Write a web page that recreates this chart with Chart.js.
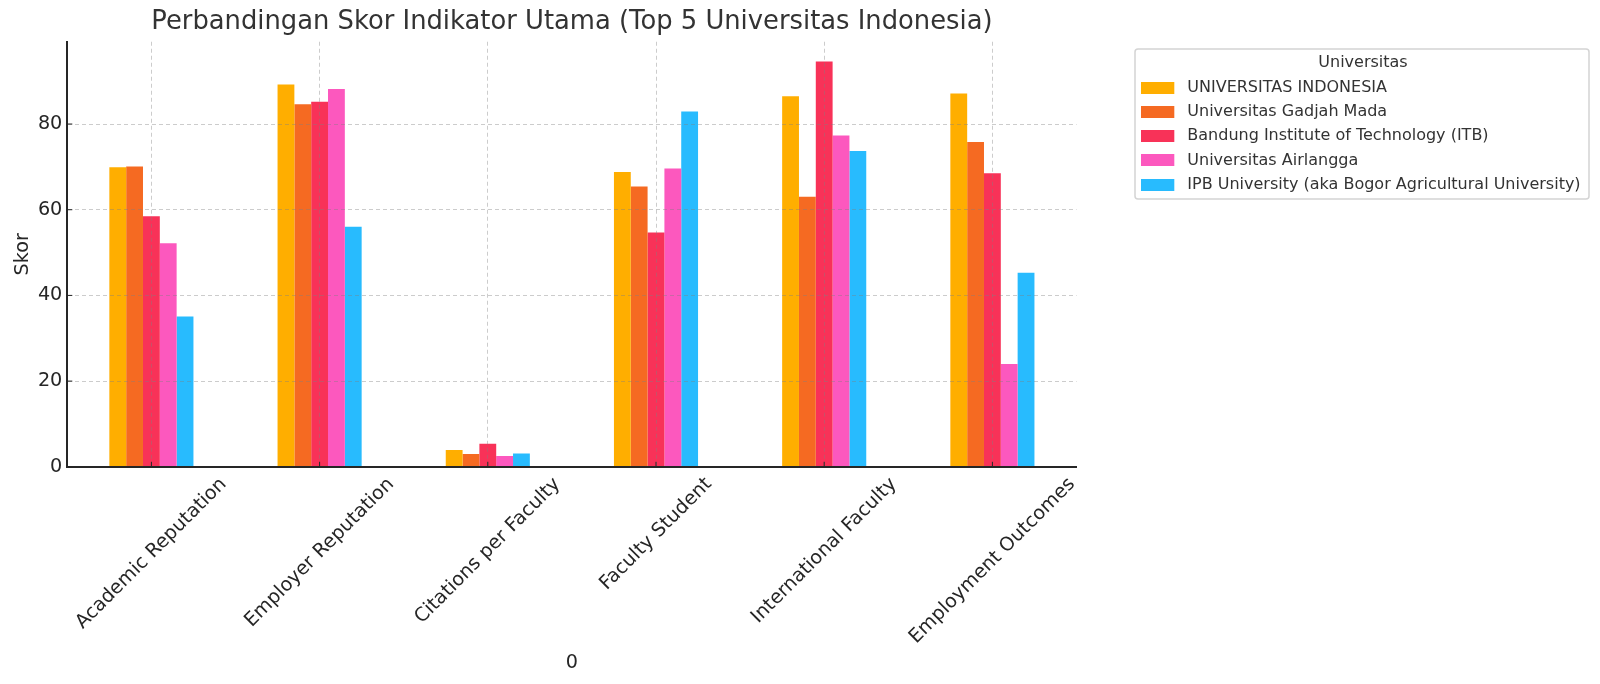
<!DOCTYPE html>
<html>
<head>
<meta charset="utf-8">
<style>html,body{margin:0;padding:0;background:#fff}canvas{display:block}</style>
<script src="https://cdn.jsdelivr.net/npm/chart.js@4"></script>
</head>
<body>
<canvas id="c" width="1600" height="684"></canvas>
<script>
const categories = ["Academic Reputation","Employer Reputation","Citations per Faculty","Faculty Student","International Faculty","Employment Outcomes"];
const universitasIndonesia = [69.9,89.2,3.9,68.8,86.5,87.1];
const gadjahMada = [70.1,84.6,3.0,65.4,63.0,75.8];
const itb = [58.5,85.2,5.4,54.7,94.6,68.5];
const airlangga = [52.2,88.2,2.5,69.6,77.3,24.0];
const ipb = [35.1,56.0,3.1,82.9,73.7,45.3];
const seriesNames = ["UNIVERSITAS INDONESIA","Universitas Gadjah Mada","Bandung Institute of Technology (ITB)","Universitas Airlangga","IPB University (aka Bogor Agricultural University)"];
const seriesColors = ["#FFAE00","#F56A22","#F83258","#FC58BE","#28BBFE"];
const seriesValues = [universitasIndonesia,gadjahMada,itb,airlangga,ipb];
const yTickStep = 20, yMax = 99.2;
const FONT = "'DejaVu Sans'";
const TICK_SIZE = 19.2, LEGEND_SIZE = 16;
const GRID = 'rgba(128,128,128,0.4)';

function swatch(color){
  const c = document.createElement('canvas');
  c.width = 38; c.height = 12;
  const g = c.getContext('2d');
  g.fillStyle = color;
  g.fillRect(0,0,33,12);
  return c;
}

const layoutPlugin = {
  id:'layoutPlugin',
  beforeLayout(chart){
    const l = chart.legend;
    if(l && !l._wrapped){
      const f = l.fit;
      l.fit = function(){ f.call(this); this.width = 523.5; };
      l._wrapped = true;
    }
  },
  afterLayout(chart){
    const l = chart.legend;
    l.left = 1133; l.right = 1593; l.top = 49; l.bottom = 684; l.width = 460; l.height = 635;
  },
  beforeDraw(chart){
    const s = chart.scales.x, ctx = chart.ctx;
    ctx.save();
    ctx.font = TICK_SIZE + "px " + FONT;
    s.getLabelItems().forEach((it,i)=>{
      const w = ctx.measureText(it.label).width;
      it.options.textAlign='center';
      it.options.textBaseline='middle';
      it.options.translation=[s.getPixelForTick(i), s.top + 7 + (w + TICK_SIZE*1.1)*Math.SQRT1_2/2];
      it.textOffset=0;
    });
    ctx.strokeStyle='#d4d4d4'; ctx.lineWidth=1.5;
    ctx.beginPath();
    ctx.roundRect(1135,49,454,150,3);
    ctx.stroke();
    ctx.restore();
  },
  afterDraw(chart){
    const ctx = chart.ctx, x = chart.scales.x, y = chart.scales.y;
    ctx.save();
    ctx.strokeStyle='#262626'; ctx.lineWidth=1;
    ctx.beginPath();
    x.ticks.forEach((t,i)=>{const p=x.getPixelForTick(i);ctx.moveTo(p,y.bottom);ctx.lineTo(p,y.bottom-5);});
    y.ticks.forEach((t,i)=>{const p=y.getPixelForTick(i);ctx.moveTo(x.left,p);ctx.lineTo(x.left+5,p);});
    ctx.stroke();
    ctx.restore();
  }
};

new Chart(document.getElementById('c'),{
  type:'bar',
  data:{
    labels:categories,
    datasets:seriesNames.map((n,i)=>({label:n,data:seriesValues[i],backgroundColor:seriesColors[i],borderWidth:0,categoryPercentage:0.5,barPercentage:1}))
  },
  plugins:[layoutPlugin],
  options:{
    responsive:false,
    animation:false,
    devicePixelRatio:1,
    layout:{autoPadding:false,padding:{left:0,right:0,top:7,bottom:9.5}},
    plugins:{
      tooltip:{enabled:false},
      title:{display:true,text:"Perbandingan Skor Indikator Utama (Top 5 Universitas Indonesia)",color:'#333333',fullSize:false,font:{family:FONT,size:25.8,weight:'normal'},padding:{top:0,bottom:3.8}},
      legend:{
        position:'right',align:'start',
        title:{display:true,text:'Universitas',color:'#333333',font:{family:FONT,size:LEGEND_SIZE},padding:{top:6,bottom:-3}},
        labels:{
          usePointStyle:true,pointStyleWidth:38,boxHeight:16,padding:8.3,color:'#333333',font:{family:FONT,size:LEGEND_SIZE},
          generateLabels(chart){
            return Chart.defaults.plugins.legend.labels.generateLabels(chart).map((it,i)=>Object.assign(it,{pointStyle:swatch(seriesColors[i])}));
          }
        }
      }
    },
    scales:{
      x:{
        afterFit(s){s.height=207.7;s.paddingLeft=0;s.paddingRight=0;},
        grid:{color:GRID,lineWidth:1,z:1,drawTicks:false,offset:false},
        border:{display:true,color:'#262626',width:2,dash:[4,3],z:1},
        ticks:{maxRotation:45,minRotation:45,color:'#262626',font:{family:FONT,size:TICK_SIZE},padding:8},
        title:{display:true,text:'0',color:'#262626',font:{family:FONT,size:TICK_SIZE},padding:{top:0,bottom:0}}
      },
      y:{
        min:0,max:yMax,
        afterFit(s){s.width=67.3;},
        grid:{color:(c)=>c.tick && c.tick.value===0 ? 'rgba(0,0,0,0)' : GRID,lineWidth:1,z:1,drawTicks:false},
        border:{display:true,color:'#262626',width:2,dash:[4,3],z:1},
        ticks:{stepSize:yTickStep,includeBounds:false,color:'#262626',font:{family:FONT,size:TICK_SIZE},padding:5},
        title:{display:true,text:'Skor',color:'#262626',font:{family:FONT,size:TICK_SIZE},padding:{top:11,bottom:4}}
      }
    }
  }
});
</script>
</body>
</html>
